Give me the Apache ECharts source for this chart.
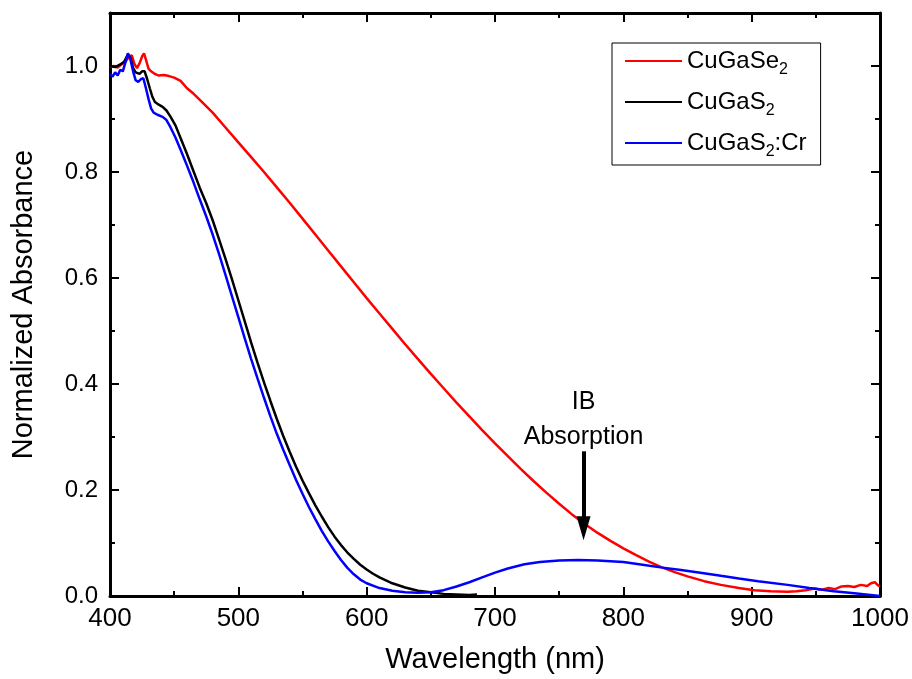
<!DOCTYPE html>
<html>
<head>
<meta charset="utf-8">
<script src="https://cdn.jsdelivr.net/npm/echarts@6/dist/echarts.min.js"></script>
<style>html,body{margin:0;padding:0;background:#fff;}#chart{width:912px;height:679px;}</style>
</head>
<body>
<div id="chart"></div>
<script>
// ---- data ----
const seriesNames = ['CuGaSe2', 'CuGaS2', 'CuGaS2:Cr'];
const legendRich = {
  'CuGaSe2': '{a|CuGaSe}{s|2}',
  'CuGaS2': '{a|CuGaS}{s|2}',
  'CuGaS2:Cr': '{a|CuGaS}{s|2}{a|:Cr}'
};
const xTicks = [400, 500, 600, 700, 800, 900, 1000];
const yTicks = [0.0, 0.2, 0.4, 0.6, 0.8, 1.0];

const cuGaSe2Wl = [400,403,406,409,412,415,417,419,421,423,425,426.5,428,430,432,435,438,442,446,450,455,460,465,470,480,490,500,510,520,530,540,550,560,570,580,590,600,610,620,630,640,650,660,670,680,690,700,710,720,730,740,750,760,770,780,790,800,810,820,830,840,850,863,876,890,902,915,928,935,942,949,955,960,965,970,975,980,985,990,993,996,998,1000];
const cuGaSe2Abs = [0.998,1.0,0.997,1.003,1.008,1.018,1.02,1.004,0.996,1.005,1.018,1.024,1.012,0.995,0.99,0.985,0.982,0.983,0.981,0.978,0.972,0.958,0.948,0.936,0.912,0.884,0.856,0.828,0.800,0.771,0.742,0.712,0.682,0.652,0.622,0.592,0.562,0.533,0.504,0.475,0.447,0.419,0.392,0.365,0.339,0.313,0.288,0.264,0.240,0.217,0.195,0.174,0.154,0.136,0.119,0.104,0.090,0.077,0.065,0.054,0.045,0.037,0.028,0.021,0.015,0.011,0.009,0.008,0.009,0.011,0.014,0.012,0.015,0.013,0.018,0.019,0.017,0.021,0.019,0.024,0.026,0.021,0.018];

const cuGaS2Wl = [400,404,408,411,414,416,418,420,423,425,427,429,431,433,435,438,441,444,447,451,456,460,465,470,475,480,485,490,495,500,505,510,515,520,525,530,535,540,545,550,555,560,565,570,575,580,585,590,595,600,605,610,620,630,640,650,660,670,680,686];
const cuGaS2Abs = [1.0,0.998,1.003,1.008,1.022,1.015,0.996,0.988,0.985,0.99,0.99,0.975,0.958,0.942,0.932,0.927,0.923,0.916,0.905,0.888,0.858,0.834,0.802,0.770,0.741,0.709,0.673,0.636,0.598,0.558,0.518,0.478,0.440,0.403,0.368,0.334,0.302,0.272,0.244,0.218,0.194,0.171,0.150,0.130,0.112,0.096,0.082,0.070,0.059,0.050,0.042,0.035,0.024,0.016,0.010,0.007,0.004,0.003,0.002,0.003];

const cuGaS2CrWl = [400,402,404,406,408,410,412,414,416,418,420,422,424,426,428,430,432,434,437,441,444,447,451,455,460,465,470,475,480,485,490,495,500,505,510,515,520,525,530,535,540,545,550,555,560,565,570,575,580,585,590,595,600,610,620,630,640,650,660,670,680,690,700,710,723,735,750,765,780,800,815,829,845,860,876,890,905,928,945,964,980,1000];
const cuGaS2CrAbs = [0.985,0.98,0.988,0.982,0.993,0.99,1.007,1.024,1.012,0.99,0.973,0.97,0.975,0.977,0.958,0.938,0.92,0.912,0.908,0.904,0.898,0.885,0.865,0.842,0.812,0.781,0.748,0.716,0.682,0.645,0.606,0.566,0.526,0.486,0.447,0.410,0.374,0.339,0.306,0.276,0.247,0.219,0.193,0.168,0.145,0.123,0.103,0.085,0.068,0.053,0.041,0.031,0.024,0.015,0.010,0.007,0.006,0.007,0.011,0.018,0.026,0.035,0.044,0.052,0.060,0.064,0.067,0.068,0.067,0.064,0.059,0.054,0.049,0.044,0.038,0.033,0.028,0.021,0.015,0.009,0.005,0.0];

// annotation (data units)
const ibText = 'IB\nAbsorption';
const ibWl = 769;
const ibTextY = 0.332;
const ibArrowFrom = 0.273;
const ibArrowTo = 0.105;

// ---- chart ----
const zip = (a, b) => a.map((v, i) => [v, b[i]]);
const FONT = "'Liberation Sans', Arial, sans-serif";
const colors = ['#ff0000', '#000000', '#0000ff'];
const allData = [zip(cuGaSe2Wl, cuGaSe2Abs), zip(cuGaS2Wl, cuGaS2Abs), zip(cuGaS2CrWl, cuGaS2CrAbs)];

const chart = echarts.init(document.getElementById('chart'), null, {renderer: 'canvas'});

const xCommon = {
  type: 'value', min: xTicks[0], max: xTicks[xTicks.length - 1], interval: xTicks[1] - xTicks[0],
  axisLine: {show: true, onZero: false, lineStyle: {color: '#000', width: 3}},
  axisTick: {show: true, inside: true, length: 9, lineStyle: {color: '#000', width: 2}},
  minorTick: {show: true, splitNumber: 2, length: 5, lineStyle: {color: '#000', width: 2}},
  splitLine: {show: false}, minorSplitLine: {show: false}
};
const yMax = 1.1;
const yMajor = {
  type: 'value', min: 0, max: yMax, interval: yTicks[1] - yTicks[0],
  axisLine: {show: true, onZero: false, lineStyle: {color: '#000', width: 3}},
  axisTick: {show: true, inside: true, length: 9, lineStyle: {color: '#000', width: 2}},
  splitLine: {show: false}
};
const yMinor = {
  type: 'value', min: 0, max: yMax, interval: (yTicks[1] - yTicks[0]) / 2,
  axisLine: {show: false},
  axisTick: {show: true, inside: true, length: 5, lineStyle: {color: '#000', width: 2}},
  axisLabel: {show: false},
  splitLine: {show: false}
};

const series = seriesNames.map((name, i) => ({
  name: name, type: 'line', data: allData[i], xAxisIndex: 0, yAxisIndex: 0,
  symbol: 'none', showSymbol: false, smooth: false,
  lineStyle: {color: colors[i], width: 2.5}, itemStyle: {color: colors[i]},
  animation: false, silent: true, z: 3 + i
}));
series[0].markLine = {
  silent: true, animation: false, symbol: ['none', 'none'],
  label: {show: false},
  lineStyle: {color: '#000', width: 4, type: 'solid'},
  data: [[{coord: [ibWl, ibArrowFrom]}, {coord: [ibWl, ibArrowTo + 0.02]}]]
};
series[0].markPoint = {
  silent: true, animation: false,
  data: [
    {coord: [ibWl, ibTextY], symbol: 'circle', symbolSize: 0,
     label: {show: true, position: 'inside', formatter: ibText, color: '#000', fontFamily: FONT, fontSize: 25, lineHeight: 35}},
    {coord: [ibWl, ibArrowTo], symbol: 'triangle', symbolSize: [14, 24], symbolRotate: 180, symbolOffset: [0, -12],
     itemStyle: {color: '#000'}, label: {show: false}}
  ]
};

chart.setOption({
  backgroundColor: '#fff',
  animation: false,
  grid: {left: 110, right: 32, top: 13, bottom: 78, containLabel: false},
  legend: {
    data: seriesNames, orient: 'vertical', left: 612, top: 43,
    itemWidth: 57, itemHeight: 14, itemGap: 12,
    padding: [6, 14, 5, 13],
    borderColor: '#000', borderWidth: 1, backgroundColor: '#fff',
    icon: 'path://M0,6 L57,6 L57,8 L0,8 Z',
    formatter: name => legendRich[name],
    textStyle: {
      color: '#000', fontFamily: FONT,
      rich: {
        a: {fontSize: 24, lineHeight: 34, fontFamily: FONT, color: '#000'},
        s: {fontSize: 16, lineHeight: 14, verticalAlign: 'bottom', fontFamily: FONT, color: '#000'}
      }
    },
    selectedMode: false
  },
  xAxis: [
    Object.assign({}, xCommon, {
      position: 'bottom',
      name: 'Wavelength (nm)', nameLocation: 'middle', nameGap: 49,
      nameTextStyle: {color: '#000', fontFamily: FONT, fontSize: 29},
      axisLabel: {show: true, color: '#000', fontFamily: FONT, fontSize: 26, margin: 10,
        formatter: v => String(v)}
    }),
    Object.assign({}, xCommon, {position: 'top', axisLabel: {show: false}})
  ],
  yAxis: [
    Object.assign({}, yMajor, {
      position: 'left',
      name: 'Normalized Absorbance', nameLocation: 'middle', nameGap: 72,
      nameTextStyle: {color: '#000', fontFamily: FONT, fontSize: 29},
      axisLabel: {show: true, color: '#000', fontFamily: FONT, fontSize: 24, margin: 12,
        formatter: v => (v > yTicks[yTicks.length - 1] + 0.01 ? '' : v.toFixed(1))}
    }),
    Object.assign({}, yMinor, {position: 'left'}),
    Object.assign({}, yMajor, {position: 'right', axisLabel: {show: false}}),
    Object.assign({}, yMinor, {position: 'right'})
  ],
  series: series
});
</script>
</body>
</html>
